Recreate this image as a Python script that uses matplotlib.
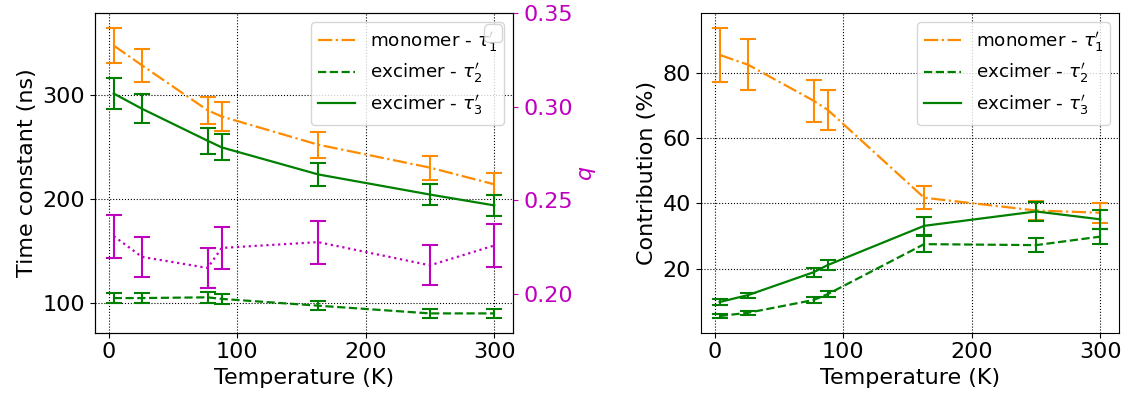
import matplotlib
matplotlib.use("Agg")
import matplotlib.pyplot as plt
import numpy as np

# Data
temperature = [4, 26, 77, 88, 163, 250, 300]

tau1 = [347, 328, 285, 279, 252, 230, 214]
tau1_err = [17, 16, 13, 14, 12.5, 11.6, 10.5]
tau2 = [105, 105, 105.7, 104.2, 97.7, 90.3, 90.3]
tau2_err = [5, 5, 5, 5, 4.5, 4.4, 4.4]
tau3 = [301, 286.4, 255.8, 249.4, 223.5, 204.2, 193.8]
tau3_err = [15, 14, 12.6, 12.5, 11, 10.4, 9.7]

q = [0.2309, 0.2198, 0.2139, 0.2246, 0.2277, 0.2153, 0.2259]
q_err = [0.0115, 0.0108, 0.0107, 0.0112, 0.0115, 0.0107, 0.0113]

c1 = [85.4, 82.4, 71.4, 68.6, 41.7, 37.8, 37.1]
c1_err = [8.3, 7.8, 6.4, 6.2, 3.6, 3.0, 3.0]
c2 = [5.5, 6.5, 10.4, 12.2, 27.5, 27.2, 29.8]
c2_err = [0.6, 0.6, 0.9, 1.0, 2.4, 2.2, 2.4]
c3 = [9.8, 11.9, 18.9, 21.1, 33.1, 37.5, 35.1]
c3_err = [0.8, 0.8, 1.4, 1.5, 2.7, 2.8, 2.9]

labels = [r"monomer - $\tau_1'$", r"excimer - $\tau_2'$", r"excimer - $\tau_3'$"]

FS = 16
plt.rcParams['font.size'] = FS
plt.rcParams['font.family'] = ['DejaVu Sans']

fig = plt.figure(figsize=(11.28, 4.01), dpi=100)
W, H = 1128, 401
ax1 = fig.add_axes([94.7 / W, 1 - 332.5 / H, 418.6 / W, (332.5 - 13.3) / H])
ax3 = fig.add_axes([700.7 / W, 1 - 332.5 / H, 418.6 / W, (332.5 - 13.3) / H])

eb = dict(fmt='none', capsize=6, elinewidth=1.5, capthick=1.5)
LW = 1.6
LEG_FS = 13.2
LEG_SP = 0.42

def draw(ax, y, yerr, color, ls, label):
    ax.plot(temperature, y, color=color, ls=ls, lw=LW, label=label)
    ax.errorbar(temperature, y, yerr=yerr, ecolor=color, **eb)

draw(ax1, tau1, tau1_err, 'darkorange', '-.', labels[0])
draw(ax1, tau2, tau2_err, 'green', '--', labels[1])
draw(ax1, tau3, tau3_err, 'green', '-', labels[2])
ax1.set_xlabel('Temperature (K)')
ax1.set_ylabel('Time constant (ns)')
ax1.set_yticks([100, 200, 300])
ax1.set_xticks([0, 100, 200, 300])
ax1.grid(True, color='k', ls=':', lw=0.8)
ax1.legend(loc='upper right', fontsize=LEG_FS, labelspacing=LEG_SP)

ax2 = ax1.twinx()
draw(ax2, q, q_err, 'm', ':', None)
ax2.set_ylim(0.1794, 0.35)
ax2.set_yticks([0.20, 0.25, 0.30, 0.35])
ax2.set_ylabel('$q$', color='m')
ax2.tick_params(axis='y', colors='m', labelcolor='m')
ax2.legend(handles=[], loc='upper right')

draw(ax3, c1, c1_err, 'darkorange', '-.', labels[0])
draw(ax3, c2, c2_err, 'green', '--', labels[1])
draw(ax3, c3, c3_err, 'green', '-', labels[2])
ax3.set_xlabel('Temperature (K)')
ax3.set_ylabel('Contribution (%)')
ax3.set_xticks([0, 100, 200, 300])
ax3.set_yticks([20, 40, 60, 80])
ax3.grid(True, color='k', ls=':', lw=0.8)
ax3.legend(loc='upper right', fontsize=LEG_FS, labelspacing=LEG_SP)

fig.savefig('out.png', dpi=100)
